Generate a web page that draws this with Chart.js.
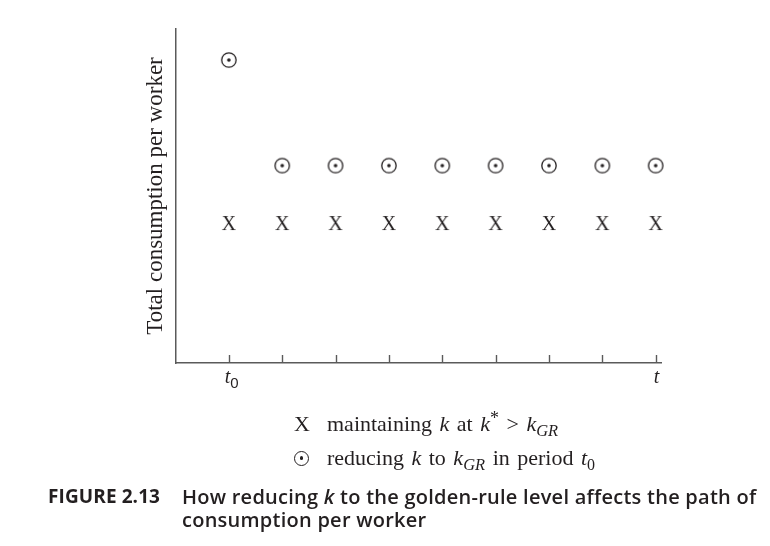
<!DOCTYPE html>
<html>
<head>
<meta charset="utf-8">
<script src="https://cdn.jsdelivr.net/npm/chart.js@4.4.1/dist/chart.umd.min.js"></script>
<style>
  html, body { margin: 0; padding: 0; background: #fff; }
  #wrap { position: relative; width: 770px; height: 546px; overflow: hidden; }
  #c { position: absolute; left: 0; top: 0; }
  .leg { position: absolute; left: 294px; font-family: "Liberation Serif", "Times New Roman", serif; font-size: 22px; line-height: 22px; color: #231f20; white-space: nowrap; word-spacing: 2px; }
  .leg .sym { display: inline-block; width: 33px; }
  .leg sub { font-size: 16.5px; vertical-align: -5px; line-height: 0; font-style: italic; }
  .leg sub.n { font-style: normal; font-size: 16px; }
  .leg sup { font-size: 18px; vertical-align: 7px; line-height: 0; }
  .circ { display: inline-block; width: 13px; height: 13px; border: 1.3px solid #231f20; border-radius: 50%; position: relative; vertical-align: -1px; margin-left: 0px; }
  .circ::after { content: ""; position: absolute; left: 4.8px; top: 4.8px; width: 3.4px; height: 3.4px; background: #231f20; border-radius: 50%; }
  .cap { position: absolute; left: 48px; top: 485px; font-family: "Open Sans", "Liberation Sans", sans-serif; font-size: 20px; line-height: 23px; color: #231f20; font-weight: 600; letter-spacing: 0.25px; }
  .cap .num { position: absolute; left: 0; top: 0; white-space: nowrap; font-weight: 700; font-size: 19px; letter-spacing: 0.1px; }
  .cap .txt { position: absolute; left: 134px; top: 0; width: 630px; }
</style>
</head>
<body>
<div id="wrap">
  <canvas id="c" width="770" height="546"></canvas>
  <div class="leg" style="top:412.5px"><span class="sym">X</span>maintaining <i>k</i> at <i>k</i><sup>*</sup> &gt; <i>k</i><sub>GR</sub></div>
  <div class="leg" style="top:446.5px"><span class="sym"><span class="circ"></span></span>reducing <i>k</i> to <i>k</i><sub>GR</sub> in period <i>t</i><sub class="n">0</sub></div>
  <div class="cap"><span class="num">FIGURE 2.13</span><span class="txt">How reducing <i>k</i> to the golden-rule level affects the path of<br>consumption per worker</span></div>
</div>
<script>
// ---- data ----
const periods = [0, 1, 2, 3, 4, 5, 6, 7, 8];
const reducingK = [9.07, 5.91, 5.91, 5.91, 5.91, 5.91, 5.91, 5.91, 5.91];
const maintainingK = [4.19, 4.19, 4.19, 4.19, 4.19, 4.19, 4.19, 4.19, 4.19];
const tickLabels = ['t_0', '', '', '', '', '', '', '', 't'];
const yAxisTitle = 'Total consumption per worker';

const ink = '#231f20';
const axisColor = '#5a5a5a';

function makeCircleDot() {
  const s = 20, c = document.createElement('canvas');
  c.width = s; c.height = s;
  const g = c.getContext('2d');
  g.strokeStyle = ink; g.lineWidth = 1.3;
  g.beginPath(); g.arc(s/2, s/2, 7.2, 0, Math.PI*2); g.stroke();
  g.fillStyle = ink;
  g.beginPath(); g.arc(s/2, s/2, 1.8, 0, Math.PI*2); g.fill();
  return c;
}
function makeX() {
  const s = 22, c = document.createElement('canvas');
  c.width = s; c.height = s;
  const g = c.getContext('2d');
  g.fillStyle = ink;
  g.font = '20px "Liberation Serif", serif';
  g.textAlign = 'center'; g.textBaseline = 'alphabetic';
  g.fillText('X', s/2, s/2 + 6.6);
  return c;
}

const tickPlugin = {
  id: 'periodTicks',
  afterDraw(chart) {
    const {ctx, scales: {x}, chartArea} = chart;
    ctx.save();
    ctx.strokeStyle = axisColor; ctx.lineWidth = 1.4;
    periods.forEach((p, i) => {
      const px = Math.round(x.getPixelForValue(p)) + 0.5;
      ctx.beginPath(); ctx.moveTo(px, chartArea.bottom); ctx.lineTo(px, chartArea.bottom - 8); ctx.stroke();
      const lab = tickLabels[i];
      if (lab) {
        const parts = lab.split('_');
        ctx.fillStyle = ink;
        ctx.font = 'italic 20px "Liberation Serif", serif';
        ctx.textBaseline = 'alphabetic';
        const w = ctx.measureText(parts[0]).width;
        const base = chartArea.bottom + 20;
        ctx.textAlign = 'left';
        ctx.fillText(parts[0], px - w/2 - (parts[1] ? 2 : 0), base);
        if (parts[1]) {
          ctx.font = '15px "Liberation Sans", sans-serif';
          ctx.fillText(parts[1], px + w/2 - 2, base + 5);
        }
      }
    });
    ctx.restore();
  }
};

new Chart(document.getElementById('c'), {
  type: 'scatter',
  data: {
    datasets: [
      {
        label: 'maintaining k at k* > kGR',
        data: periods.map((p, i) => ({x: p, y: maintainingK[i]})),
        pointStyle: makeX(),
        pointRadius: 10,
        showLine: false,
        clip: false
      },
      {
        label: 'reducing k to kGR in period t0',
        data: periods.map((p, i) => ({x: p, y: reducingK[i]})),
        pointStyle: makeCircleDot(),
        pointRadius: 10,
        showLine: false,
        clip: false
      }
    ]
  },
  options: {
    responsive: false,
    animation: false,
    devicePixelRatio: 1,
    layout: { padding: { left: 0, top: 29, right: 109, bottom: 183 } },
    plugins: { legend: { display: false }, tooltip: { enabled: false } },
    scales: {
      x: {
        type: 'linear', min: -1, max: 8.1,
        grid: { display: false },
        border: { display: true, color: axisColor, width: 1.5 },
        ticks: { display: false },
        afterFit(s) { s.height = 0; }
      },
      y: {
        type: 'linear', min: 0, max: 10,
        grid: { display: false },
        border: { display: true, color: axisColor, width: 1.5 },
        ticks: { display: false },
        title: {
          display: true, text: yAxisTitle, color: ink,
          font: { family: '"Liberation Serif", serif', size: 23 },
          padding: { top: 142, bottom: 0 }
        },
        afterFit(s) { s.width = 175.5; }
      }
    }
  },
  plugins: [tickPlugin]
});
</script>
</body>
</html>
